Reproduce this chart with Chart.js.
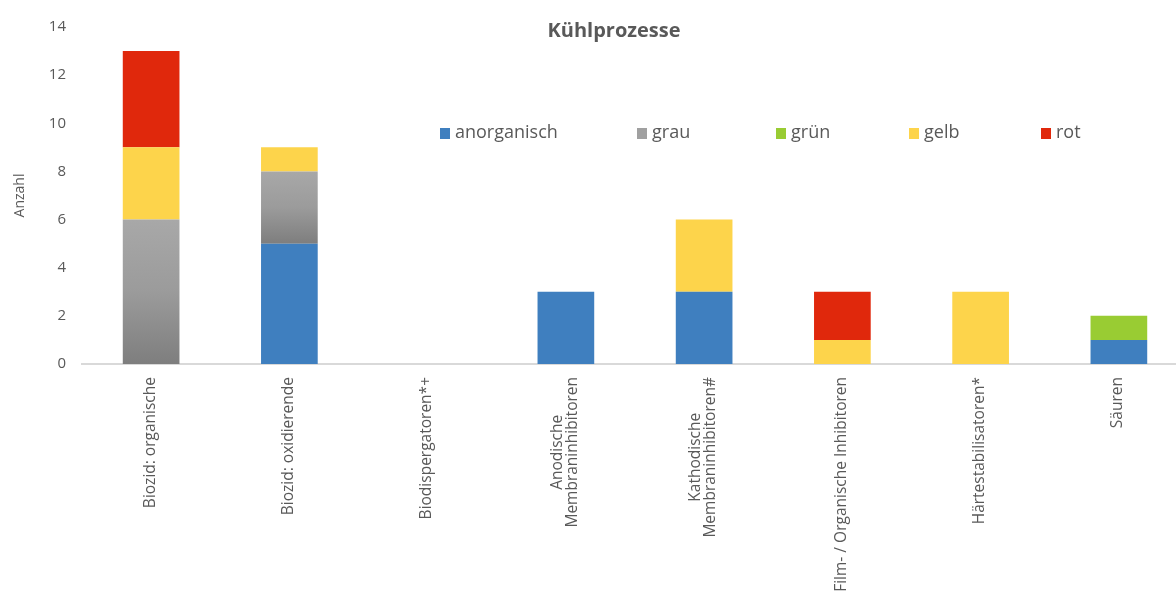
<!DOCTYPE html>
<html>
<head>
<meta charset="utf-8">
<script src="https://cdn.jsdelivr.net/npm/chart.js@4"></script>
<style>
body{margin:0;background:#fff}
#wrap{width:1176px;height:599px;position:relative;overflow:hidden}
/* the original picture is cropped on the right, so the plot runs a bit past the edge */
#box{width:1188px;height:599px;position:relative}
</style>
</head>
<body>
<div id="wrap"><div id="box"><canvas id="chart"></canvas></div></div>
<script>
const kategorien = [
  "Biozid: organische",
  "Biozid: oxidierende",
  "Biodispergatoren*+",
  ["Anodische", "Membraninhibitoren"],
  ["Kathodische", "Membraninhibitoren#"],
  "Film- / Organische Inhibitoren",
  "Härtestabilisatoren*",
  "Säuren"
];
const anorganisch = [0, 5, 0, 3, 3, 0, 0, 1];
const grau        = [6, 3, 0, 0, 0, 0, 0, 0];
const gruen       = [0, 0, 0, 0, 0, 0, 0, 1];
const gelb        = [3, 1, 0, 0, 3, 1, 3, 0];
const rot         = [4, 0, 0, 0, 0, 2, 0, 0];
const yTicks = [0, 2, 4, 6, 8, 10, 12, 14];

const textFarbe = "#595959";
const schrift = "'Open Sans', sans-serif";

// grey bars get a vertical gradient per segment, like the original
function grauFill(ctx) {
  const chart = ctx.chart;
  const y = chart.scales.y;
  if (!chart.chartArea || !y || ctx.type !== "data") return "#9a9a9a";
  const i = ctx.dataIndex;
  const top = y.getPixelForValue(anorganisch[i] + grau[i]);
  const bot = y.getPixelForValue(anorganisch[i]);
  if (!isFinite(top) || !isFinite(bot) || top === bot) return "#9a9a9a";
  const g = chart.ctx.createLinearGradient(0, top, 0, bot);
  g.addColorStop(0, "#a8a8a8");
  g.addColorStop(0.5, "#9b9b9b");
  g.addColorStop(1, "#7e7e7e");
  return g;
}

const legendeFarben = ["#3f7fbf", "#a0a0a0", "#99cc33", "#fdd44b", "#e0280c"];
const legendeX = [440, 637, 776, 909, 1041];

// title + legend sit inside the plot area
const overlay = {
  id: "overlay",
  afterDraw(chart) {
    const c = chart.ctx;
    c.save();
    c.fillStyle = textFarbe;
    c.font = "bold 20px " + schrift;
    c.textAlign = "center";
    c.textBaseline = "middle";
    c.fillText("Kühlprozesse", 614, 31);

    c.font = "18px " + schrift;
    c.textAlign = "left";
    chart.data.datasets.forEach((ds, i) => {
      const x = legendeX[i];
      c.fillStyle = legendeFarben[i];
      c.fillRect(x, 128, 10, 11);
      c.fillStyle = textFarbe;
      c.fillText(ds.label, x + 15, 133);
    });
    c.restore();
  }
};

// category labels, rotated, multi-line labels centred on each other
const xLabels = {
  id: "xLabels",
  afterDraw(chart) {
    const s = chart.scales.x, c = chart.ctx;
    c.save();
    c.fillStyle = textFarbe;
    c.font = "15.5px " + schrift;
    c.textAlign = "center";
    c.textBaseline = "middle";
    s.ticks.forEach((t, i) => {
      const lines = [].concat(chart.data.labels[i]);
      const w = Math.max(...lines.map(l => c.measureText(l).width));
      c.save();
      c.translate(s.getPixelForTick(i) - 1, s.top + 13);
      c.rotate(-Math.PI / 2);
      lines.forEach((l, j) => c.fillText(l, -w / 2, (j - (lines.length - 1) / 2) * 15));
      c.restore();
    });
    c.restore();
  }
};

const bar = { barPercentage: 0.82, categoryPercentage: 0.5 };

new Chart(document.getElementById("chart"), {
  type: "bar",
  data: {
    labels: kategorien,
    datasets: [
      { label: "anorganisch", data: anorganisch, backgroundColor: "#3f7fbf", ...bar },
      { label: "grau", data: grau, backgroundColor: grauFill, ...bar },
      { label: "grün", data: gruen, backgroundColor: "#99cc33", ...bar },
      { label: "gelb", data: gelb, backgroundColor: "#fdd44b", ...bar },
      { label: "rot", data: rot, backgroundColor: "#e0280c", ...bar }
    ]
  },
  options: {
    responsive: true,
    maintainAspectRatio: false,
    animation: false,
    layout: { padding: { top: 27, right: 0, left: 0, bottom: 0 } },
    plugins: { legend: { display: false }, title: { display: false }, tooltip: { enabled: false } },
    scales: {
      x: {
        stacked: true,
        grid: { display: false, drawTicks: false },
        border: { display: true, color: "#d9d9d9", width: 2 },
        ticks: { display: false },
        afterFit(s) { s.height = 235; }
      },
      y: {
        stacked: true,
        min: 0,
        max: 14,
        afterBuildTicks(s) { s.ticks = yTicks.map(v => ({ value: v })); },
        grid: { display: false, drawTicks: false },
        border: { display: false },
        ticks: { color: textFarbe, font: { family: schrift, size: 15 }, padding: 16 },
        title: {
          display: true,
          text: "Anzahl",
          color: textFarbe,
          font: { family: schrift, size: 14 },
          padding: { top: 12, bottom: 0 }
        },
        afterFit(s) { s.width = 82; }
      }
    }
  },
  plugins: [overlay, xLabels]
});
</script>
</body>
</html>
